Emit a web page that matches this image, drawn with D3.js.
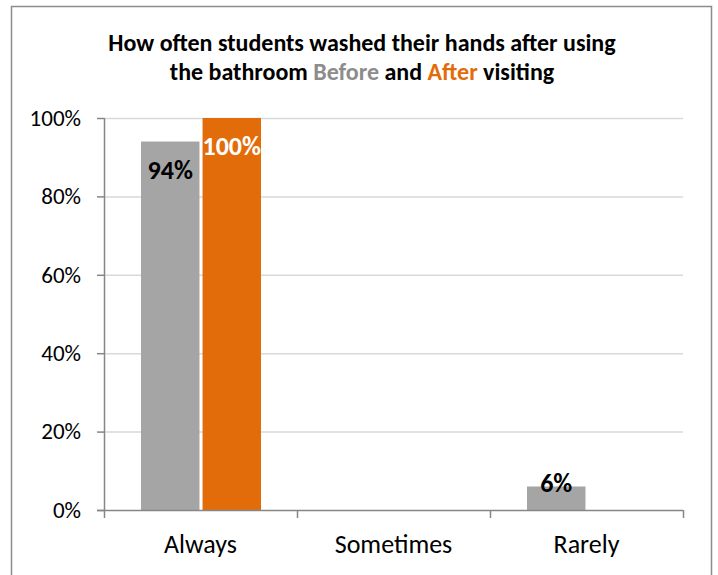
<!DOCTYPE html>
<html>
<head>
<meta charset="utf-8">
<script src="https://cdn.jsdelivr.net/npm/d3@7"></script>
<style>
  html, body { margin: 0; padding: 0; background: #fff; }
  svg { display: block; font-family: Carlito, Lato, "Open Sans", sans-serif; }
</style>
</head>
<body>
<svg id="chart" width="718" height="575"></svg>
<script>
// Hand-washing survey responses, share of students
const categories = ["Always", "Sometimes", "Rarely"];
const seriesNames = ["Before", "After"];
const beforeValues = [0.94, 0, 0.06];
const afterValues = [1.00, 0, 0];
const yTicks = [0, 0.2, 0.4, 0.6, 0.8, 1.0];
const seriesColors = ["#a5a5a5", "#e36c0a"];

const svg = d3.select("#chart");
const W = 718, H = 575;
const margin = { left: 104, right: 35, top: 118, bottom: 65 };
const plotW = W - margin.left - margin.right;
const plotH = H - margin.top - margin.bottom;

// Outer frame (open at the bottom edge)
svg.append("path")
  .attr("d", `M11.5,${H} V6.5 H711.5 V${H}`)
  .attr("fill", "none")
  .attr("stroke", "#8c8c8c")
  .attr("stroke-width", 1.5);

// Title with coloured series names
const title = svg.append("text")
  .attr("x", 362).attr("text-anchor", "middle")
  .attr("font-weight", "bold").attr("font-size", 24).attr("fill", "#000");
title.append("tspan").attr("x", 362).attr("y", 51)
  .text("How often students washed their hands after using");
const line2 = title.append("tspan").attr("x", 362).attr("y", 80);
line2.append("tspan").text("the bathroom ");
line2.append("tspan").attr("fill", "#8c8c8c").text("Before");
line2.append("tspan").text(" and ");
line2.append("tspan").attr("fill", seriesColors[1]).text("After");
line2.append("tspan").text(" visiting");

const g = svg.append("g").attr("transform", `translate(${margin.left},${margin.top})`);

const x0 = d3.scaleBand().domain(categories).range([0, plotW]).paddingInner(0).paddingOuter(0);
const x1 = d3.scaleBand().domain(seriesNames).range([37, x0.bandwidth() - 36]).paddingInner(0.05);
const y = d3.scaleLinear().domain([0, 1]).range([plotH, 0]);

// Gridlines
g.append("g").selectAll("line").data(yTicks.filter(d => d > 0)).join("line")
  .attr("x1", 0).attr("x2", plotW)
  .attr("y1", d => y(d) + 0.5).attr("y2", d => y(d) + 0.5)
  .attr("stroke", "#d9d9d9").attr("stroke-width", 1.5);

// Bars
const rows = categories.map((c, i) => ({ cat: c, vals: [beforeValues[i], afterValues[i]] }));
const groups = g.selectAll(".cat").data(rows).join("g")
  .attr("transform", d => `translate(${x0(d.cat)},0)`);

groups.selectAll("rect").data(d => d.vals.map((v, j) => ({ v, s: seriesNames[j], j })))
  .join("rect")
  .attr("x", d => x1(d.s))
  .attr("width", x1.bandwidth())
  .attr("y", d => y(d.v))
  .attr("height", d => plotH - y(d.v))
  .attr("fill", d => seriesColors[d.j]);

// Value labels at the inside end of each non-zero bar (short bars get them at the top)
groups.selectAll("text.val").data(d => d.vals.map((v, j) => ({ v, s: seriesNames[j], j })).filter(d => d.v > 0))
  .join("text").attr("class", "val")
  .attr("x", d => x1(d.s) + x1.bandwidth() / 2)
  .attr("y", d => y(d.v) + (d.v < 0.1 ? 5.5 : 37))
  .attr("text-anchor", "middle")
  .attr("font-weight", "bold").attr("font-size", 26)
  .attr("fill", d => d.j === 1 ? "#fff" : "#000")
  .text(d => d3.format(".0%")(d.v));

// Y axis
const yAxis = g.append("g").call(d3.axisLeft(y).tickValues(yTicks).tickFormat(d3.format(".0%")).tickSize(7).tickPadding(16));
yAxis.select(".domain").attr("stroke", "#868686").attr("stroke-width", 1.5).attr("d", `M0.5,0V${plotH}`);
yAxis.selectAll(".tick line").attr("stroke", "#868686").attr("stroke-width", 1.5);
yAxis.selectAll(".tick text").attr("font-size", 23).attr("fill", "#000").attr("font-family", "Carlito, Lato, sans-serif");

// X axis with boundary ticks between categories
const xAxis = g.append("g").attr("transform", `translate(0,${plotH})`);
xAxis.append("line").attr("x1", -7).attr("x2", plotW).attr("y1", 0.5).attr("y2", 0.5)
  .attr("stroke", "#868686").attr("stroke-width", 1.5);
const bounds = categories.map(c => x0(c)).concat([plotW]);
xAxis.selectAll("line.tk").data(bounds).join("line").attr("class", "tk")
  .attr("x1", d => d + 0.5).attr("x2", d => d + 0.5).attr("y1", 0).attr("y2", 8)
  .attr("stroke", "#868686").attr("stroke-width", 1.5);
xAxis.selectAll("text").data(categories).join("text")
  .attr("x", d => x0(d) + x0.bandwidth() / 2).attr("y", 43)
  .attr("text-anchor", "middle").attr("font-size", 26).attr("fill", "#000")
  .text(d => d);
</script>
</body>
</html>
